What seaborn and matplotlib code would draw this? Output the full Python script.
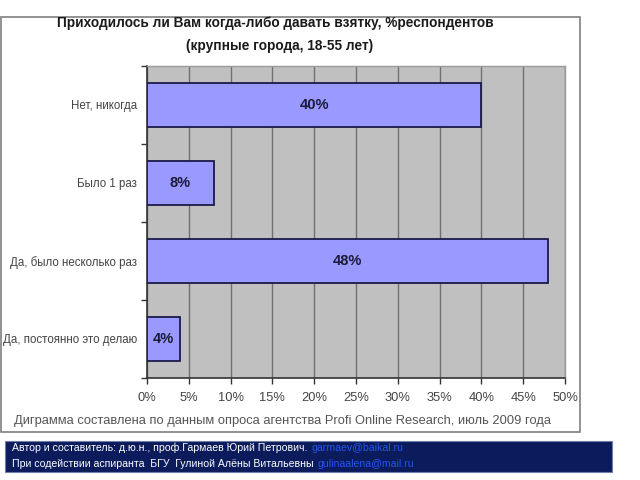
import matplotlib
matplotlib.use("Agg")
import matplotlib.pyplot as plt
import seaborn as sns
import pandas as pd
from matplotlib.patches import Rectangle
from matplotlib.ticker import FuncFormatter

categories = ["Нет, никогда", "Было 1 раз", "Да, было несколько раз", "Да, постоянно это делаю"]
values = [40, 8, 48, 4]
xticks = [0, 5, 10, 15, 20, 25, 30, 35, 40, 45, 50]

title1 = "Приходилось ли Вам когда-либо давать взятку, %респондентов"
title2 = "(крупные города, 18-55 лет)"
footnote = "Диграмма составлена по данным опроса агентства Profi Online Research, июль 2009 года"
credit1 = "Автор и составитель: д.ю.н., проф.Гармаев Юрий Петрович."
credit2 = "При содействии аспиранта  БГУ  Гулиной Алёны Витальевны"
link1 = "garmaev@baikal.ru"
link2 = "gulinaalena@mail.ru"

sns.set_theme(style="white")
plt.rcParams["font.family"] = ["Liberation Sans", "DejaVu Sans"]

W, H = 640, 480
fig = plt.figure(figsize=(6.4, 4.8), dpi=100)
fig.patch.set_facecolor("white")

def px(x0, y0, x1, y1):
    return [x0 / W, 1 - y1 / H, (x1 - x0) / W, (y1 - y0) / H]

# outer chart frame
fig.patches.append(Rectangle((0.5 / W, 1 - 432 / H), 579 / W, (432 - 17) / H,
                             transform=fig.transFigure, facecolor="white",
                             edgecolor="#7f7f7f", linewidth=1.2, zorder=-2))
# bottom blue box
fig.patches.append(Rectangle((5 / W, 1 - 472 / H), 607 / W, 31 / H,
                             transform=fig.transFigure, facecolor="#0b1b5c",
                             edgecolor="#6f7fa8", linewidth=0.8, zorder=-2))

ax = fig.add_axes(px(147, 66, 565, 378))
ax.set_zorder(2)
df = pd.DataFrame({"cat": categories, "val": values})
sns.barplot(data=df, x="val", y="cat", orient="h", ax=ax, color="#9999ff",
            edgecolor="#1a1a4a", linewidth=1.3, width=0.56, saturation=1, zorder=3)
ax.set_facecolor("#c0c0c0")
ax.set_xlim(0, 50)
ax.set_ylim(3.5, -0.5)
ax.set_xticks(xticks)
ax.xaxis.set_major_formatter(FuncFormatter(lambda v, p: f"{int(v)}%"))
ax.grid(axis="x", color="#707070", linewidth=1.0, zorder=1)
ax.set_axisbelow(True)
ax.set_xlabel("")
ax.set_ylabel("")
for s in ["top", "right"]:
    ax.spines[s].set_color("#9a9a9a")
    ax.spines[s].set_linewidth(1.0)
for s in ["left", "bottom"]:
    ax.spines[s].set_color("#333333")
    ax.spines[s].set_linewidth(1.2)
ax.tick_params(axis="x", length=4, width=1, color="#333333", direction="out",
               labelsize=9.3, labelcolor="#444444", pad=6, bottom=True)
ax.tick_params(axis="y", length=0, labelsize=8.3, labelcolor="#444444", pad=7)
ax.set_yticks([-0.5, 0.5, 1.5, 2.5, 3.5], minor=True)
ax.tick_params(axis="y", which="minor", length=4, width=1, color="#333333", left=True)

for i, v in enumerate(values):
    ax.text(v / 2, i, f"{v}%", ha="center", va="center", fontsize=10.5,
            fontweight="bold", color="#1a1a3a", zorder=5)

fig.text(275 / W, 1 - 23 / H, title1, ha="center", va="center", fontsize=9.8,
         fontweight="bold", color="#1a1a1a")
fig.text(280 / W, 1 - 46 / H, title2, ha="center", va="center", fontsize=9.8,
         fontweight="bold", color="#1a1a1a")
fig.text(14 / W, 1 - 421 / H, footnote, ha="left", va="center", fontsize=9.3,
         color="#555555")
t1 = fig.text(12 / W, 1 - 448 / H, credit1, ha="left", va="center", fontsize=7.6,
              color="white")
t2 = fig.text(12 / W, 1 - 464 / H, credit2, ha="left", va="center", fontsize=7.6,
              color="white")
fig.canvas.draw()
r = fig.canvas.get_renderer()
e1 = t1.get_window_extent(r)
e2 = t2.get_window_extent(r)
fig.text((e1.x1 + 4) / W, 1 - 448 / H, link1, ha="left", va="center", fontsize=7.6,
         color="#2255ee")
fig.text((e2.x1 + 4) / W, 1 - 464 / H, link2, ha="left", va="center", fontsize=7.6,
         color="#2255ee")

fig.savefig("out.png", dpi=100)
